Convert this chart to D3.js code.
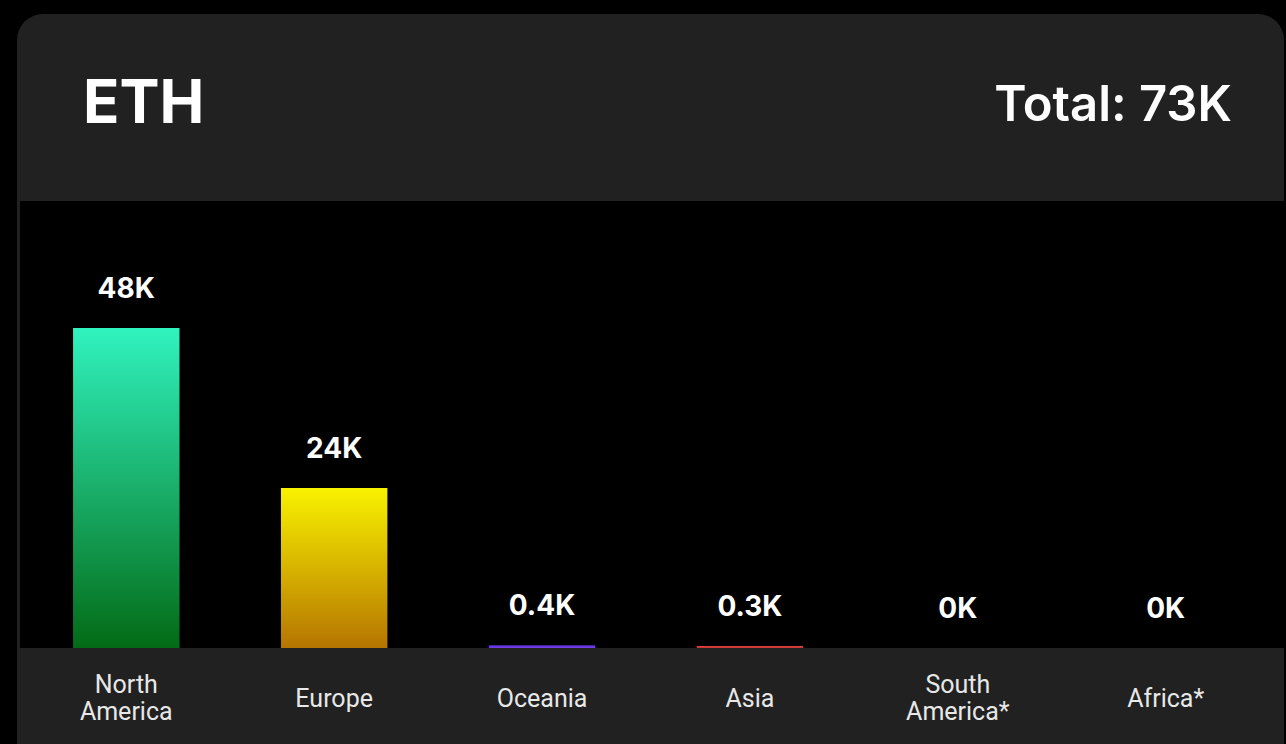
<!DOCTYPE html>
<html>
<head>
<meta charset="utf-8">
<script src="https://cdn.jsdelivr.net/npm/d3@7"></script>
<style>
  html, body { margin: 0; padding: 0; background: #000; }
  svg { display: block; }
</style>
</head>
<body>
<div id="chart"></div>
<script>
var width = 1286;
var height = 744;

// data
var regions = ["North America", "Europe", "Oceania", "Asia", "South America*", "Africa*"];
var values = [48, 24, 0.4, 0.3, 0, 0];           // thousands
var valueLabels = ["48K", "24K", "0.4K", "0.3K", "0K", "0K"];
var topColors = ["#30f3bf", "#f9f200", "#5a34ee", "#e04545", "#000", "#000"];
var bottomColors = ["#036b16", "#b57500", "#7a3be0", "#c83030", "#000", "#000"];
var title = "ETH";
var totalLabel = "Total: 73K";

var svg = d3.select("#chart")
    .append("svg")
    .attr("width", width)
    .attr("height", height);

var defs = svg.append("defs");
regions.forEach(function(r, i) {
    var g = defs.append("linearGradient")
        .attr("id", "grad" + i)
        .attr("x1", 0).attr("y1", 0)
        .attr("x2", 0).attr("y2", 1);
    g.append("stop").attr("offset", "0%").attr("stop-color", topColors[i]);
    g.append("stop").attr("offset", "100%").attr("stop-color", bottomColors[i]);
});

// card
svg.append("rect")
    .attr("x", 17).attr("y", 14)
    .attr("width", 1267).attr("height", 760)
    .attr("rx", 26)
    .attr("fill", "#212121");

// plot area
var plotTop = 201, plotBottom = 648;
svg.append("rect")
    .attr("x", 20).attr("y", plotTop)
    .attr("width", width - 20).attr("height", plotBottom - plotTop)
    .attr("fill", "#000");

// header
svg.append("text")
    .attr("x", 83).attr("y", 123)
    .attr("font-family", "Inter, 'Noto Sans', sans-serif")
    .attr("font-weight", 700)
    .attr("font-size", 60)
    .attr("fill", "#fff")
    .text(title);

svg.append("text")
    .attr("x", 1232).attr("y", 121)
    .attr("text-anchor", "end")
    .attr("font-family", "Inter, 'Noto Sans', sans-serif")
    .attr("font-weight", 600)
    .attr("font-size", 49)
    .attr("fill", "#fff")
    .text(totalLabel);

// scales
var xScale = d3.scaleBand()
    .domain(regions)
    .range([19, 1273])
    .paddingInner(0.488)
    .paddingOuter(0.26);

var yScale = d3.scaleLinear()
    .domain([0, 60])
    .range([plotBottom, plotBottom - 400]);

var chartG = svg.append("g");

chartG.selectAll("rect.bar")
    .data(regions)
    .enter()
    .append("rect")
    .attr("class", "bar")
    .attr("x", function(d) { return xScale(d); })
    .attr("width", xScale.bandwidth())
    .attr("y", function(d, i) { return yScale(values[i]); })
    .attr("height", function(d, i) { return yScale(0) - yScale(values[i]); })
    .attr("fill", function(d, i) { return "url(#grad" + i + ")"; });

chartG.selectAll("text.val")
    .data(regions)
    .enter()
    .append("text")
    .attr("class", "val")
    .attr("x", function(d) { return xScale(d) + xScale.bandwidth() / 2; })
    .attr("y", function(d, i) { return yScale(values[i]) - 30; })
    .attr("text-anchor", "middle")
    .attr("font-family", "Inter, 'Noto Sans', sans-serif")
    .attr("font-weight", 700)
    .attr("font-size", 28)
    .attr("fill", "#fff")
    .text(function(d, i) { return valueLabels[i]; });

// category labels, two-word names on two lines
regions.forEach(function(d) {
    var words = d.split(" ");
    var cx = xScale(d) + xScale.bandwidth() / 2;
    var lines = words.length === 1 ? [[d, 707]] : [[words[0], 693], [words.slice(1).join(" "), 720]];
    lines.forEach(function(l) {
        chartG.append("text")
            .attr("class", "cat")
            .attr("x", cx)
            .attr("y", l[1])
            .attr("text-anchor", "middle")
            .attr("font-family", "Roboto, sans-serif")
            .attr("font-size", 25)
            .attr("fill", "#e8e8e8")
            .text(l[0]);
    });
});
</script>
</body>
</html>
